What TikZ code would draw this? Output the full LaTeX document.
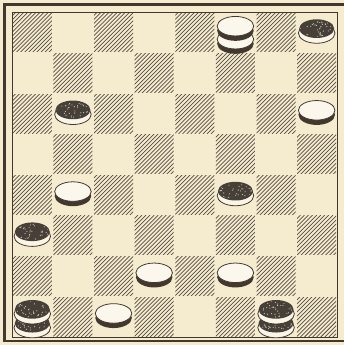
\documentclass[tikz,border=0pt]{standalone}
\usepackage{tikz}

\definecolor{paper}{RGB}{245,236,207}
\definecolor{ink}{RGB}{66,56,46}
\definecolor{disc}{RGB}{70,64,57}

\tikzset{
  hatch/.style={ink!90, line width=0.5pt},
  rim/.style={draw=ink, line width=0.55pt},
  whiteman/.pic={
    \fill[ink] (0,-0.11) ellipse (0.45 and 0.25);
    \filldraw[rim, fill=paper!40!white] (0,0) ellipse (0.45 and 0.24);
  },
  blackman/.pic={
    \filldraw[rim, fill=paper!50!white] (0,-0.1) ellipse (0.45 and 0.25);
    \fill[disc] (0,0.01) ellipse (0.43 and 0.23);
    \begin{scope}
      \clip (0,0.01) ellipse (0.4 and 0.2);
      \foreach \s in {1,...,40}
        \fill[paper!70!gray] ({0.4*rand},{0.01+0.2*rand}) circle (0.014);
    \end{scope}
  },
  whiteking/.pic={
    \pic at (0,-0.17) {whiteman};
    \pic at (0,0.15) {whiteman};
  },
  blackking/.pic={
    \pic at (0,-0.17) {blackman};
    \pic at (0,0.17) {blackman};
  },
}

\begin{document}
\begin{tikzpicture}
  \pgfmathsetseed{11}
  \useasboundingbox (-0.295,-0.197) rectangle (8.172,8.295);
  \fill[paper] (-0.295,-0.197) rectangle (8.172,8.295);

  % hatched squares
  \foreach \c in {0,...,7}
    \foreach \r in {0,...,7} {
      \pgfmathtruncatemacro{\dark}{mod(\c+\r,2)}
      \ifnum\dark=1
        \begin{scope}
          \clip (\c+0.02,\r+0.02) rectangle ++(0.96,0.96);
          \foreach \k in {0,0.1,...,2.05}
            \draw[hatch] (\c+\k-1,\r) -- ++(1,1);
        \end{scope}
      \fi
    }

  % board and frame
  \draw[ink, line width=0.6pt] (0,0) rectangle (8,8);
  \draw[ink, line width=1.8pt] (8.172,8.185) -- (-0.185,8.185) -- (-0.185,-0.098) -- (8.172,-0.098);

  % pieces: (column, row from top)
  \foreach \c/\r in {7/2, 1/4, 3/6, 5/6, 2/7}
    \pic at (\c+0.5,7.58-\r) {whiteman};
  \foreach \c/\r in {7/0, 1/2, 5/4, 0/5}
    \pic at (\c+0.5,7.58-\r) {blackman};
  \pic at (5.5,7.5) {whiteking};
  \foreach \c in {0,6}
    \pic at (\c+0.5,0.5) {blackking};
\end{tikzpicture}
\end{document}
